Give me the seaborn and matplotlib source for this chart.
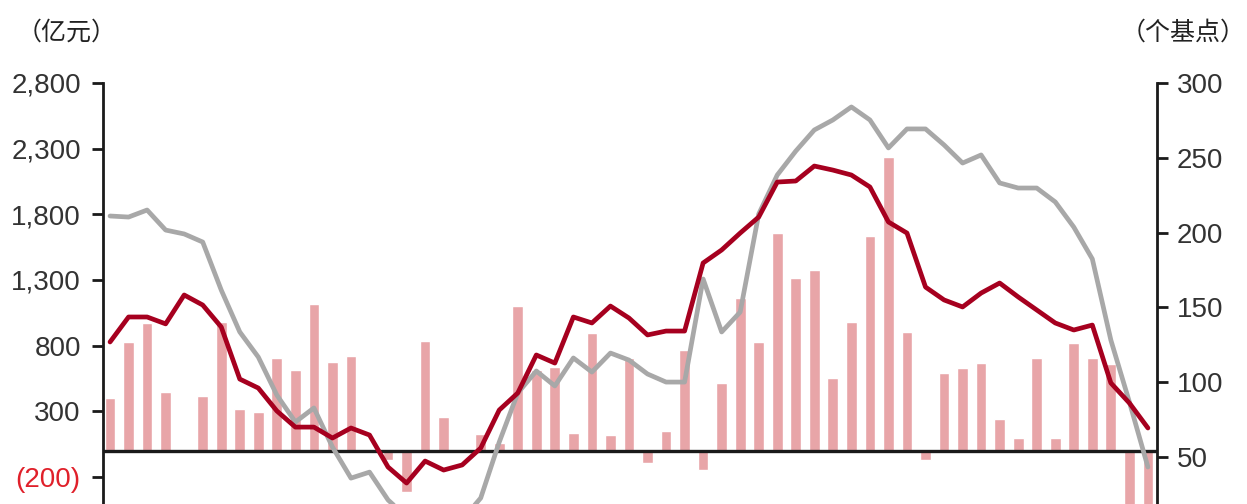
import numpy as np
import pandas as pd
import matplotlib
matplotlib.use("Agg")
import matplotlib.pyplot as plt
import seaborn as sns

# ---- data ----
bars = [401, 828, 973, 447, 0, 417, 980, 318, 295, 706,
        615, 1117, 676, 721, 0, -70, -314, 835, 257, 0,
        127, 60, 1102, 615, 640, 135, 896, 120, 706, -90,
        150, 767, -150, 516, 1163, 828, 1658, 1315, 1377, 554,
        980, 1635, 2237, 904, -70, 592, 630, 668, 242, 97,
        706, 97, 820, 706, 660, -650, -550]
red_line = [126.9, 143.6, 143.6, 139.0, 158.3, 151.6, 136.9, 102.1, 96.1, 80.8,
            70.0, 70.0, 62.7, 69.4, 64.7, 43.3, 32.6, 47.3, 41.3, 44.7,
            56.0, 81.4, 92.8, 118.2, 112.8, 143.6, 139.6, 150.9, 142.9, 131.6,
            134.2, 134.2, 179.7, 188.4, 199.7, 210.4, 233.8, 234.5, 244.5, 241.8,
            238.5, 230.5, 207.1, 199.7, 163.6, 155.0, 150.3, 159.6, 166.3, 157.0,
            148.3, 139.6, 134.9, 138.2, 99.5, 86.1, 69.4]
gray_line = [211.1, 210.4, 215.1, 201.7, 199.1, 193.7, 161.6, 133.6, 116.8, 91.4,
             73.4, 82.8, 56.7, 35.9, 39.9, 21.3, 10.0, 3.0, 0.0, 8.0,
             22.6, 60.0, 92.8, 107.5, 97.5, 116.2, 106.8, 119.5, 114.8, 105.5,
             100.1, 100.1, 169.0, 133.6, 146.9, 212.4, 238.5, 254.5, 268.6, 275.3,
             284.0, 275.3, 256.6, 269.3, 269.3, 258.6, 246.5, 251.9, 233.2, 229.8,
             229.8, 220.5, 203.7, 182.4, 128.2, 86.8, 43.3]
left_ticks = [2800, 2300, 1800, 1300, 800, 300, -200]
left_labels = ["2,800", "2,300", "1,800", "1,300", "800", "300", "(200)"]
right_ticks = [300, 250, 200, 150, 100, 50]
left_unit = "（亿元）"
right_unit = "（个基点）"

idx = np.arange(len(bars))
df = pd.DataFrame({"i": idx, "bars": bars, "red": red_line, "gray": gray_line})

sns.set_theme(style="white")
plt.rcParams["font.family"] = ["Liberation Sans", "DejaVu Sans"]

W, H = 1247, 504
fig = plt.figure(figsize=(W / 100, H / 100), dpi=100)
ax = fig.add_axes([103 / W, 0.0, (1157 - 103) / W, 1 - 83 / H])

bar_color = "#E8A5A8"
red_color = "#A6001F"
gray_color = "#A8A8A8"
text_color = "#333333"

sns.barplot(data=df, x="i", y="bars", native_scale=True, color=bar_color,
            width=0.58, saturation=1, ax=ax, zorder=1)
ax.axhline(0, color="#1a1a1a", lw=2.4, zorder=3)

ax.set_ylim(-405.6, 2800)
ax.set_xlim(-0.38, 56.49)
ax.set_yticks(left_ticks)
ax.set_yticklabels(left_labels)
for lab in ax.get_yticklabels():
    lab.set_color(text_color)
ax.get_yticklabels()[-1].set_color("#E0202A")
ax.set_xticks([])
ax.set_xlabel("")
ax.set_ylabel("")
ax.tick_params(axis="y", which="both", left=True, length=8, width=2,
               color="#1a1a1a", labelsize=20, pad=8)

ax2 = ax.twinx()
sns.lineplot(data=df, x="i", y="gray", color=gray_color, lw=3.4, ax=ax2)
sns.lineplot(data=df, x="i", y="red", color=red_color, lw=3.4, ax=ax2)
ax2.set_ylim(18.6, 300)
ax2.set_xlim(-0.38, 56.49)
ax2.set_yticks(right_ticks)
ax2.set_yticklabels([str(t) for t in right_ticks], color=text_color)
ax2.set_ylabel("")
ax2.set_xlabel("")
ax2.tick_params(axis="y", which="both", right=True, length=8, width=2,
                color="#1a1a1a", labelsize=20, pad=6)

for a in (ax, ax2):
    a.grid(False)
    for s in ("top", "bottom"):
        a.spines[s].set_visible(False)
    a.spines["left"].set_visible(a is ax)
    a.spines["right"].set_visible(a is ax2)
    for s in ("left", "right"):
        a.spines[s].set_color("#1a1a1a")
        a.spines[s].set_linewidth(2)

cjk = ["Noto Sans CJK SC", "DejaVu Sans"]
fig.text(67 / W, 1 - 33 / H, left_unit, ha="center", va="center",
         fontsize=18, family=cjk, color="#222222")
fig.text(1183 / W, 1 - 33 / H, right_unit, ha="center", va="center",
         fontsize=18, family=cjk, color="#222222")

fig.savefig("out.png", dpi=100)
